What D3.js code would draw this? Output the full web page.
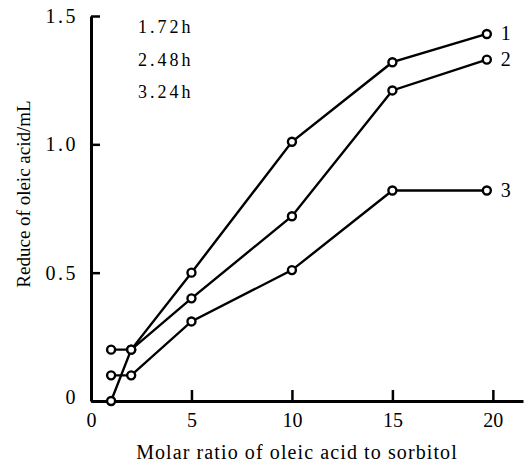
<!DOCTYPE html>
<html>
<head>
<meta charset="utf-8">
<script src="https://cdn.jsdelivr.net/npm/d3@7"></script>
<style>
  body { margin: 0; background: #fff; }
  svg text { font-family: "Liberation Serif", "DejaVu Serif", serif; fill: #000; }
</style>
</head>
<body>
<div id="chart"></div>
<script>
var w = 529;
var h = 464;

// data
var ratios = [1, 2, 5, 10, 15, 19.7];
var series1 = [0.2, 0.2, 0.5, 1.01, 1.32, 1.43];
var series2 = [0, 0.2, 0.4, 0.72, 1.21, 1.33];
var series3 = [0.1, 0.1, 0.31, 0.51, 0.82, 0.82];
var seriesNames = ["1", "2", "3"];
var legendTimes = ["1.72h", "2.48h", "3.24h"];
var xTicks = [0, 5, 10, 15, 20];
var yTicks = [0, 0.5, 1.0, 1.5];

var allSeries = [series1, series2, series3];

var svg = d3.select("#chart")
    .append("svg")
    .attr("width", w)
    .attr("height", h);

var xScale = d3.scaleLinear()
    .domain([0, 21.5])
    .range([91, 523]);

var yScale = d3.scaleLinear()
    .domain([0, 1.5])
    .range([401, 16]);

// x axis
var xAxis = svg.append("g")
    .attr("transform", "translate(0," + yScale(0) + ")")
    .call(d3.axisBottom(xScale)
        .tickValues(xTicks)
        .tickSize(-11)
        .tickSizeOuter(0)
        .tickPadding(12));
xAxis.select(".domain").attr("stroke-width", 3);
xAxis.selectAll(".tick line").attr("stroke-width", 2.5);
xAxis.selectAll(".tick text").attr("font-size", "20px");

// y axis
var yAxis = svg.append("g")
    .attr("transform", "translate(" + xScale(0) + ",0)")
    .call(d3.axisLeft(yScale)
        .tickValues(yTicks)
        .tickSize(-9)
        .tickSizeOuter(0)
        .tickPadding(13)
        .tickFormat(function (d) { return d === 0 ? "0" : d3.format(".1f")(d); }));
yAxis.select(".domain").attr("stroke-width", 3);
yAxis.selectAll(".tick line").attr("stroke-width", 2.5);
yAxis.selectAll(".tick text")
    .attr("font-size", "20px")
    .attr("letter-spacing", "2.5px");
yAxis.selectAll(".tick")
    .filter(function (d) { return d === 0; })
    .select("text")
    .attr("y", -4);

// lines
var line = d3.line()
    .x(function (d, i) { return xScale(ratios[i]); })
    .y(function (d) { return yScale(d); });

svg.selectAll(".series")
    .data(allSeries)
    .join("path")
    .attr("class", "series")
    .attr("d", line)
    .attr("fill", "none")
    .attr("stroke", "black")
    .attr("stroke-width", 2.4);

// markers
allSeries.forEach(function (s) {
    svg.append("g").selectAll("circle")
        .data(s)
        .join("circle")
        .attr("cx", function (d, i) { return xScale(ratios[i]); })
        .attr("cy", function (d) { return yScale(d); })
        .attr("r", 4)
        .attr("fill", "white")
        .attr("stroke", "black")
        .attr("stroke-width", 2.4);
});

// series numbers at the right end
svg.selectAll(".sname")
    .data(allSeries)
    .join("text")
    .attr("class", "sname")
    .attr("x", function (d) { return xScale(ratios[ratios.length - 1]) + 14; })
    .attr("y", function (d) { return yScale(d[d.length - 1]) + 6; })
    .attr("font-size", "20px")
    .text(function (d, i) { return seriesNames[i]; });

// time labels top-left
svg.selectAll(".time")
    .data(legendTimes)
    .join("text")
    .attr("class", "time")
    .attr("x", 138)
    .attr("y", function (d, i) { return 33 + i * 32.5; })
    .attr("font-size", "18px")
    .attr("letter-spacing", "3px")
    .text(function (d) { return d; });

// axis titles
svg.append("text")
    .attr("x", 297)
    .attr("y", 459)
    .attr("text-anchor", "middle")
    .attr("font-size", "20px")
    .attr("letter-spacing", "1.1px")
    .text("Molar ratio of oleic acid to sorbitol");

svg.append("text")
    .attr("transform", "translate(30,194) rotate(-90)")
    .attr("text-anchor", "middle")
    .attr("font-size", "19px")
    .text("Reduce of oleic acid/mL");
</script>
</body>
</html>
